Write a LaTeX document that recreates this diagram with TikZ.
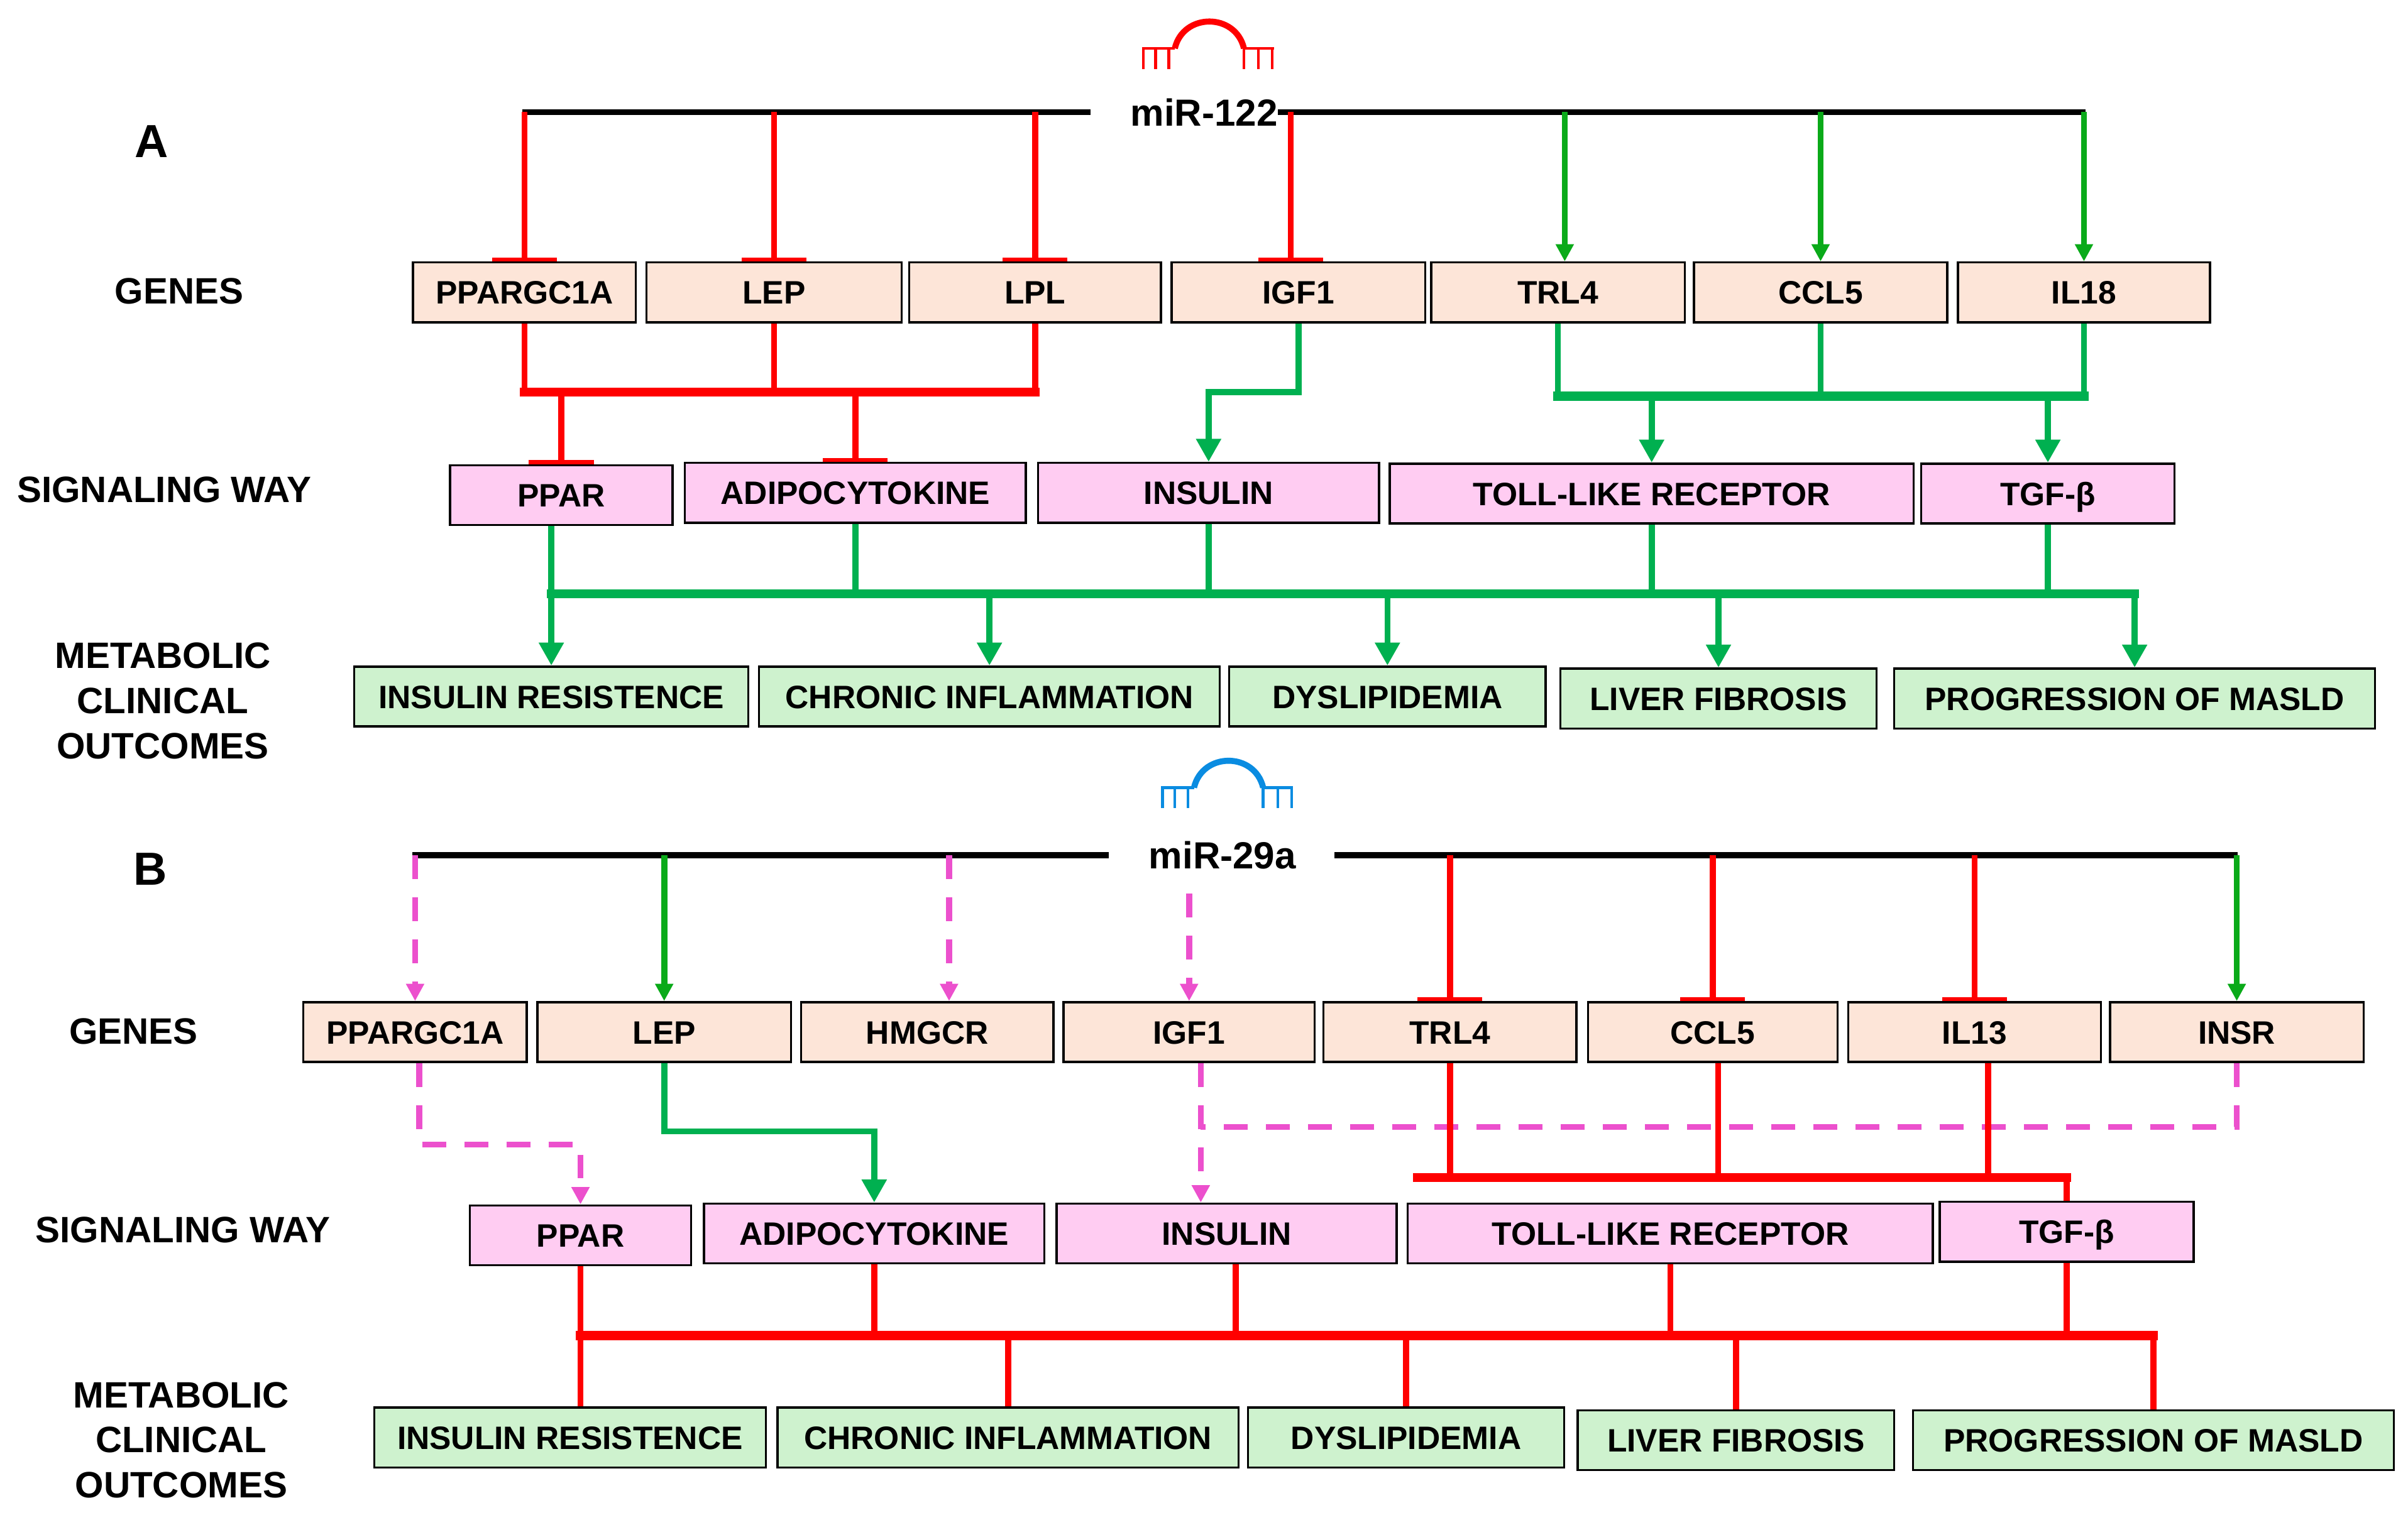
\documentclass[tikz,border=0pt]{standalone}
\usepackage{fontspec}
\setmainfont{Liberation Sans}
\usetikzlibrary{arrows.meta}
\definecolor{genefill}{RGB}{253,229,216}
\definecolor{sigfill}{RGB}{255,204,242}
\definecolor{outfill}{RGB}{206,242,206}
\definecolor{grnA}{RGB}{10,170,25}
\definecolor{grnB}{RGB}{0,176,80}
\definecolor{pnkc}{RGB}{236,80,205}
\definecolor{mirblue}{RGB}{10,140,225}
\newcommand\bxfont{\fontsize{15}{18}\selectfont\bfseries}
\newcommand\lbfont{\fontsize{17}{20.9}\selectfont\bfseries}
\newcommand\mirfont{\fontsize{17.5}{20}\selectfont\bfseries}
\tikzset{
  box/.style={draw=black, line width=1pt, inner sep=0pt, font=\bxfont, text height=10.8pt, text depth=0pt, minimum height=0.975cm},
  gene/.style={box, fill=genefill},
  sig/.style={box, fill=sigfill},
  outc/.style={box, fill=outfill},
  lab/.style={font=\lbfont, align=center, inner sep=0pt},
  mline/.style={line width=2.8pt},
  lnk/.style={line width=2.8pt},
  busl/.style={line width=4.2pt, line cap=rect},
  inh/.style={red, lnk, -{Bar[width=30pt, line width=1.8pt]}},
  act/.style={-{Triangle[length=8pt, width=8pt]}},
  actb/.style={-{Triangle[length=10.6pt, width=11pt]}},
  pnk/.style={pnkc, lnk, dash pattern=on 11pt off 8.5pt},
  pics/mirna/.style={code={
    \draw[line width=1.4pt] (-44,0) -- (-22.5,0) (22.5,0) -- (42,0);
    \draw[line width=1.3pt] (-43,0) -- (-43,13.5) (-35,0) -- (-35,13.5) (-26.5,0) -- (-26.5,13.5)
      (22.5,0) -- (22.5,13.5) (32,0) -- (32,13.5) (41,0) -- (41,13.5);
    \draw[line width=2.8pt] (-22.5,0) .. controls (-17,-23.3) and (17,-23.3) .. (22.5,0);
  }},
}
\begin{document}
\begin{tikzpicture}[x=0.025cm,y=-0.025cm]
\useasboundingbox (0,0) rectangle (1568,989.7);

% ---------- A: miR-122 ----------
\node[lab] (tA) at (98.7,92) {\fontsize{21.5}{24}\selectfont\bfseries A};
\node[lab] (lgA) at (116.7,189.5) {GENES};
\node[lab] (lsA) at (107,319) {SIGNALING WAY};
\node[lab] (loA) at (106,456.5) {METABOLIC\\CLINICAL\\OUTCOMES};
\pic[red] at (787.5,31.5) {mirna};
\node[font=\mirfont, inner sep=0pt] (mirA) at (784,73) {miR-122};
\coordinate (lA) at (340,73);
\coordinate (rA) at (1358,73);
\draw[mline] (lA) -- (710,73);
\draw[mline] (mirA.east) -- (rA);

\node[gene, minimum width=3.625cm] (gA1) at (341.5,190.5) {PPARGC1A};
\node[gene, minimum width=4.15cm] (gA2) at (504,190.5) {LEP};
\node[gene, minimum width=4.1cm] (gA3) at (674,190.5) {LPL};
\node[gene, minimum width=4.125cm] (gA4) at (845.5,190.5) {IGF1};
\node[gene, minimum width=4.125cm] (gA5) at (1014.5,190.5) {TRL4};
\node[gene, minimum width=4.125cm] (gA6) at (1185.5,190.5) {CCL5};
\node[gene, minimum width=4.1cm] (gA7) at (1357,190.5) {IL18};

\node[sig, minimum width=3.625cm] (sA1) at (365.5,322.5) {PPAR};
\node[sig, minimum width=5.55cm] (sA2) at (557,321) {ADIPOCYTOKINE};
\node[sig, minimum width=5.55cm] (sA3) at (787,321) {INSULIN};
\node[sig, minimum width=8.525cm] (sA4) at (1075.5,321.5) {TOLL-LIKE RECEPTOR};
\node[sig, minimum width=4.125cm] (sA5) at (1333.5,321.5) {TGF-β};

\node[outc, minimum width=6.415cm] (oA1) at (359,453.7) {INSULIN RESISTENCE};
\node[outc, minimum width=7.5cm] (oA2) at (644.3,453.7) {CHRONIC INFLAMMATION};
\node[outc, minimum width=5.15cm] (oA3) at (903.45,453.7) {DYSLIPIDEMIA};
\node[outc, minimum width=5.15cm] (oA4) at (1119,455) {LIVER FIBROSIS};
\node[outc, minimum width=7.825cm] (oA5) at (1390,455) {PROGRESSION OF MASLD};

% miR-122 -> genes
\draw[inh] (gA1.north |- lA) -- (gA1.north);
\draw[inh] (gA2.north |- lA) -- (gA2.north);
\draw[inh] (gA3.north |- lA) -- (gA3.north);
\coordinate (tA4) at ([xshift=-0.125cm]gA4.north);
\draw[inh] (tA4 |- lA) -- (tA4);
\coordinate (tA5) at ([xshift=0.11cm]gA5.north);
\draw[grnA, lnk, act] (tA5 |- rA) -- (tA5);
\draw[grnA, lnk, act] (gA6.north |- rA) -- (gA6.north);
\draw[grnA, lnk, act] (gA7.north |- rA) -- (gA7.north);

% genes -> signaling
\coordinate (bA1) at (0,255.5);
\draw[red, lnk] (gA1.south) -- (gA1.south |- bA1);
\draw[red, lnk] (gA2.south) -- (gA2.south |- bA1);
\draw[red, lnk] (gA3.south) -- (gA3.south |- bA1);
\draw[red, busl] (gA1.south |- bA1) -- (gA3.south |- bA1);
\draw[inh] (sA1.north |- bA1) -- (sA1.north);
\draw[inh] (sA2.north |- bA1) -- (sA2.north);
\draw[grnB, lnk, actb] (gA4.south) |- (sA3.north |- bA1) -- (sA3.north);
\coordinate (bA2) at (0,258);
\draw[grnB, lnk] (gA5.south) -- (gA5.south |- bA2);
\draw[grnB, lnk] (gA6.south) -- (gA6.south |- bA2);
\draw[grnB, lnk] (gA7.south) -- (gA7.south |- bA2);
\draw[grnB, busl] (gA5.south |- bA2) -- (gA7.south |- bA2);
\draw[grnB, lnk, actb] (sA4.north |- bA2) -- (sA4.north);
\draw[grnB, lnk, actb] (sA5.north |- bA2) -- (sA5.north);

% signaling -> outcomes
\coordinate (bA3) at (0,386.8);
\draw[grnB, lnk] (sA2.south) -- (sA2.south |- bA3);
\draw[grnB, lnk] (sA3.south) -- (sA3.south |- bA3);
\draw[grnB, lnk] (sA4.south) -- (sA4.south |- bA3);
\draw[grnB, lnk] (sA5.south) -- (sA5.south |- bA3);
\draw[grnB, busl] (oA1.north |- bA3) -- (oA5.north |- bA3);
\draw[grnB, lnk, actb] (oA1.north |- sA1.south) -- (oA1.north);
\draw[grnB, lnk, actb] (oA2.north |- bA3) -- (oA2.north);
\draw[grnB, lnk, actb] (oA3.north |- bA3) -- (oA3.north);
\draw[grnB, lnk, actb] (oA4.north |- bA3) -- (oA4.north);
\draw[grnB, lnk, actb] (oA5.north |- bA3) -- (oA5.north);

% ---------- B: miR-29a ----------
\node[lab] (tB) at (98,566) {\fontsize{21.5}{24}\selectfont\bfseries B};
\node[lab] (lgB) at (87,672) {GENES};
\node[lab] (lsB) at (119,801) {SIGNALING WAY};
\node[lab] (loB) at (118,938) {METABOLIC\\CLINICAL\\OUTCOMES};
\pic[mirblue] at (800,513) {mirna};
\node[font=\mirfont, inner sep=0pt] (mirB) at (796,557) {miR-29a};
\coordinate (lB) at (268.5,557);
\coordinate (rB) at (1457,557);
\draw[mline] (lB) -- (722,557);
\draw[mline] (869,557) -- (rB);

\node[gene, minimum width=3.635cm] (gB1) at (270.3,672.25) {PPARGC1A};
\node[gene, minimum width=4.125cm] (gB2) at (432.5,672.25) {LEP};
\node[gene, minimum width=4.11cm] (gB3) at (603.8,672.25) {HMGCR};
\node[gene, minimum width=4.085cm] (gB4) at (774.3,672.25) {IGF1};
\node[gene, minimum width=4.12cm] (gB5) at (944.15,672.25) {TRL4};
\node[gene, minimum width=4.06cm] (gB6) at (1115.25,672.25) {CCL5};
\node[gene, minimum width=4.11cm] (gB7) at (1285.75,672.25) {IL13};
\node[gene, minimum width=4.125cm] (gB8) at (1456.5,672.25) {INSR};

\node[sig, minimum width=3.6cm] (sB1) at (378,804.65) {PPAR};
\node[sig, minimum width=5.5375cm] (sB2) at (569.25,803.45) {ADIPOCYTOKINE};
\node[sig, minimum width=5.5375cm] (sB3) at (798.75,803.45) {INSULIN};
\node[sig, minimum width=8.5475cm] (sB4) at (1087.65,803.45) {TOLL-LIKE RECEPTOR};
\node[sig, minimum width=4.135cm] (sB5) at (1345.7,802.3) {TGF-β};

\node[outc, minimum width=6.37cm] (oB1) at (371.2,936.4) {INSULIN RESISTENCE};
\node[outc, minimum width=7.5cm] (oB2) at (656.4,936.4) {CHRONIC INFLAMMATION};
\node[outc, minimum width=5.15cm] (oB3) at (915.6,936.4) {DYSLIPIDEMIA};
\node[outc, minimum width=5.1475cm] (oB4) at (1130.35,938.05) {LIVER FIBROSIS};
\node[outc, minimum width=7.8275cm] (oB5) at (1402.15,938.05) {PROGRESSION OF MASLD};

% miR-29a -> genes
\draw[pnk, act] (gB1.north |- lB) -- (gB1.north);
\draw[grnA, lnk, act] (gB2.north |- lB) -- (gB2.north);
\coordinate (tB3) at ([xshift=0.355cm]gB3.north);
\draw[pnk, act] (tB3 |- lB) -- (tB3);
\draw[pnk, act] (gB4.north) ++(0,-70) -- (gB4.north);
\draw[inh] (gB5.north |- rB) -- (gB5.north);
\draw[inh] (gB6.north |- rB) -- (gB6.north);
\draw[inh] (gB7.north |- rB) -- (gB7.north);
\draw[grnA, lnk, act] (gB8.north |- rB) -- (gB8.north);

% genes -> signaling
\draw[pnk, act] ([xshift=0.07cm]gB1.south) -- ++(0,53) -| (sB1.north);
\draw[grnB, lnk, actb] (gB2.south) -- ++(0,44.5) -| (sB2.north);
\coordinate (iB) at ([xshift=0.19cm]gB4.south);
\draw[pnk, act] (iB) -- (iB |- sB3.north);
\coordinate (bB1) at (0,734);
\draw[pnk] (gB8.south) |- (iB |- bB1);
\coordinate (bB2) at (923,767);
\draw[red, lnk] (gB5.south) -- (gB5.south |- bB2);
\coordinate (jB6) at ([xshift=0.09cm]gB6.south);
\draw[red, lnk] (jB6) -- (jB6 |- bB2);
\coordinate (jB7) at ([xshift=0.22cm]gB7.south);
\draw[red, lnk] (jB7) -- (jB7 |- bB2);
\draw[red, busl] (bB2) -- (sB5.north |- bB2);
\draw[red, lnk] (sB5.north |- bB2) -- (sB5.north);

% signaling -> outcomes
\coordinate (bB3) at (0,870);
\draw[red, lnk] (sB1.south) -- (sB1.south |- oB1.north);
\draw[red, lnk] (sB2.south) -- (sB2.south |- bB3);
\coordinate (jS3) at ([xshift=0.15cm]sB3.south);
\draw[red, lnk] (jS3) -- (jS3 |- bB3);
\draw[red, lnk] (sB4.south) -- (sB4.south |- bB3);
\draw[red, lnk] (sB5.south) -- (sB5.south |- bB3);
\draw[red, busl] (sB1.south |- bB3) -- (oB5.north |- bB3);
\draw[red, lnk] (oB2.north |- bB3) -- (oB2.north);
\draw[red, lnk] (oB3.north |- bB3) -- (oB3.north);
\draw[red, lnk] (oB4.north |- bB3) -- (oB4.north);
\draw[red, lnk] (oB5.north |- bB3) -- (oB5.north);
\end{tikzpicture}
\end{document}
